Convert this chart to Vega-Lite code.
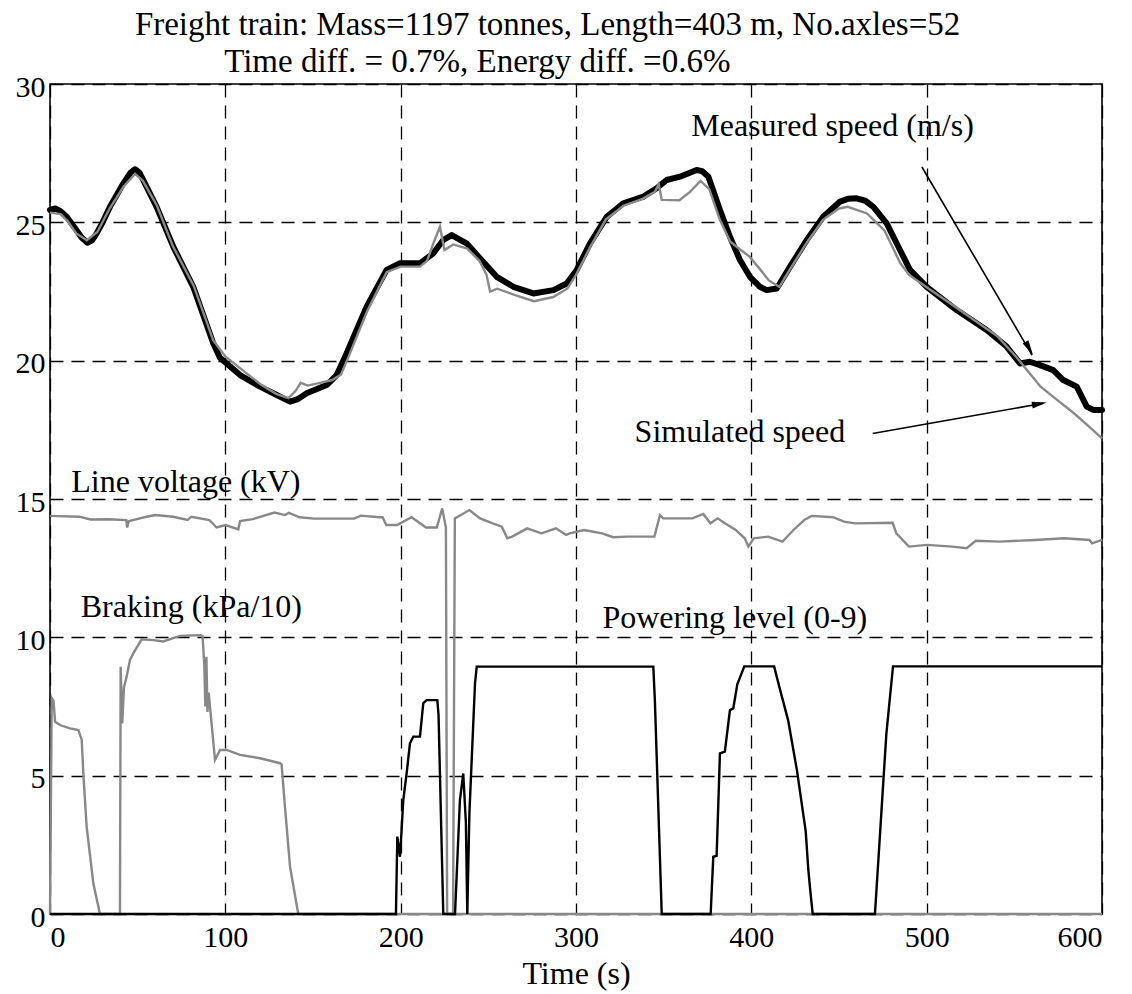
{
  "$schema": "https://vega.github.io/schema/vega-lite/v6.json",
  "width": 1052,
  "height": 830,
  "autosize": {"type": "none"},
  "padding": {"left": 50, "top": 84, "right": 30, "bottom": 80},
  "background": "#ffffff",
  "config": {
    "view": {"stroke": "#000000", "strokeWidth": 1.6},
    "font": "Liberation Serif",
    "axis": {
      "labelFont": "Liberation Serif",
      "labelColor": "#000000",
      "labelFontSize": 30,
      "titleFont": "Liberation Serif",
      "titleFontSize": 32,
      "titleFontWeight": "normal",
      "titleColor": "#000000",
      "ticks": false,
      "tickSize": 0,
      "domain": false,
      "grid": true,
      "gridColor": "#000000",
      "gridOpacity": 1,
      "gridWidth": 1.3,
      "gridDash": [13, 8]
    }
  },
  "datasets": {
    "measured": [
      {"t": 0, "v": 25.45}, {"t": 3, "v": 25.5}, {"t": 6, "v": 25.4}, {"t": 9.5, "v": 25.2},
      {"t": 15, "v": 24.72}, {"t": 18, "v": 24.45}, {"t": 21.3, "v": 24.26}, {"t": 24, "v": 24.35},
      {"t": 26.6, "v": 24.6}, {"t": 30, "v": 25.0}, {"t": 34.2, "v": 25.56}, {"t": 41.8, "v": 26.4},
      {"t": 46, "v": 26.8}, {"t": 48.5, "v": 26.92}, {"t": 51, "v": 26.8}, {"t": 53.2, "v": 26.53},
      {"t": 60.8, "v": 25.56}, {"t": 70.3, "v": 24.12}, {"t": 81.7, "v": 22.67}, {"t": 93.1, "v": 20.63},
      {"t": 97, "v": 20.1}, {"t": 100.8, "v": 19.9}, {"t": 108.4, "v": 19.48}, {"t": 119.8, "v": 19.06},
      {"t": 129.3, "v": 18.76}, {"t": 136.9, "v": 18.52}, {"t": 141, "v": 18.6}, {"t": 146.4, "v": 18.82},
      {"t": 157.8, "v": 19.12}, {"t": 163.5, "v": 19.48}, {"t": 169.2, "v": 20.27}, {"t": 180.6, "v": 21.95},
      {"t": 192, "v": 23.28}, {"t": 199.6, "v": 23.52}, {"t": 211, "v": 23.52}, {"t": 218.6, "v": 23.88},
      {"t": 224.3, "v": 24.36}, {"t": 229.1, "v": 24.54}, {"t": 237.6, "v": 24.24}, {"t": 245.2, "v": 23.7},
      {"t": 254.8, "v": 23.03}, {"t": 264.3, "v": 22.67}, {"t": 275.7, "v": 22.43}, {"t": 287.1, "v": 22.55},
      {"t": 294.7, "v": 22.79}, {"t": 300.4, "v": 23.28}, {"t": 308, "v": 24.24}, {"t": 317.5, "v": 25.2},
      {"t": 327, "v": 25.69}, {"t": 338.4, "v": 25.93}, {"t": 346, "v": 26.23}, {"t": 351.7, "v": 26.53},
      {"t": 359.3, "v": 26.65}, {"t": 368.8, "v": 26.89}, {"t": 372, "v": 26.85}, {"t": 375.5, "v": 26.65},
      {"t": 382.1, "v": 25.45}, {"t": 387.8, "v": 24.48}, {"t": 393.5, "v": 23.64}, {"t": 399.2, "v": 23.03},
      {"t": 404.9, "v": 22.67}, {"t": 408.7, "v": 22.55}, {"t": 414.5, "v": 22.61}, {"t": 422.1, "v": 23.4},
      {"t": 431.6, "v": 24.36}, {"t": 441, "v": 25.2}, {"t": 450.6, "v": 25.75}, {"t": 455, "v": 25.85},
      {"t": 460.1, "v": 25.87}, {"t": 465, "v": 25.78}, {"t": 469.6, "v": 25.56}, {"t": 477.2, "v": 24.96},
      {"t": 484.8, "v": 24.0}, {"t": 490.5, "v": 23.28}, {"t": 500, "v": 22.67}, {"t": 517.1, "v": 21.83},
      {"t": 534.2, "v": 21.11}, {"t": 545.6, "v": 20.51}, {"t": 553.2, "v": 19.9}, {"t": 558.9, "v": 19.96},
      {"t": 564.6, "v": 19.84}, {"t": 572.2, "v": 19.66}, {"t": 577.9, "v": 19.3}, {"t": 585.6, "v": 19.06},
      {"t": 591.3, "v": 18.34}, {"t": 595, "v": 18.22}, {"t": 600, "v": 18.22}
    ],
    "simulated": [
      {"t": 0, "v": 25.35}, {"t": 6, "v": 25.3}, {"t": 10, "v": 25.05}, {"t": 15, "v": 24.6},
      {"t": 21, "v": 24.35}, {"t": 27, "v": 24.65}, {"t": 34, "v": 25.5}, {"t": 42, "v": 26.3},
      {"t": 48.5, "v": 26.75}, {"t": 53, "v": 26.5}, {"t": 61, "v": 25.6}, {"t": 70, "v": 24.15},
      {"t": 82, "v": 22.7}, {"t": 93, "v": 20.75}, {"t": 100, "v": 20.15}, {"t": 108, "v": 19.75},
      {"t": 120, "v": 19.15}, {"t": 129, "v": 18.8}, {"t": 136, "v": 18.65}, {"t": 140, "v": 18.9},
      {"t": 143, "v": 19.2}, {"t": 147, "v": 19.1}, {"t": 154, "v": 19.2}, {"t": 161, "v": 19.3},
      {"t": 166, "v": 19.5}, {"t": 170, "v": 20.1}, {"t": 181, "v": 21.8}, {"t": 192, "v": 23.2},
      {"t": 200, "v": 23.4}, {"t": 211, "v": 23.4}, {"t": 215, "v": 23.6}, {"t": 219, "v": 24.3},
      {"t": 222.4, "v": 24.84}, {"t": 225, "v": 24.0}, {"t": 230, "v": 24.2}, {"t": 238, "v": 24.05},
      {"t": 245, "v": 23.6}, {"t": 249, "v": 23.1}, {"t": 251, "v": 22.5}, {"t": 255, "v": 22.6},
      {"t": 264, "v": 22.4}, {"t": 276, "v": 22.15}, {"t": 287, "v": 22.3}, {"t": 295, "v": 22.6},
      {"t": 300, "v": 23.1}, {"t": 308, "v": 24.1}, {"t": 317, "v": 25.1}, {"t": 327, "v": 25.6},
      {"t": 338, "v": 25.85}, {"t": 345, "v": 26.1}, {"t": 347.2, "v": 26.38}, {"t": 348.9, "v": 25.81},
      {"t": 359, "v": 25.8}, {"t": 365, "v": 26.1}, {"t": 371, "v": 26.5}, {"t": 376, "v": 26.2},
      {"t": 382, "v": 25.1}, {"t": 388, "v": 24.3}, {"t": 394, "v": 24.0}, {"t": 399, "v": 23.76},
      {"t": 405, "v": 23.3}, {"t": 410, "v": 22.9}, {"t": 416, "v": 22.67}, {"t": 422, "v": 23.3},
      {"t": 432, "v": 24.3}, {"t": 441, "v": 25.1}, {"t": 450, "v": 25.5}, {"t": 455, "v": 25.56},
      {"t": 466, "v": 25.32}, {"t": 476, "v": 24.7}, {"t": 485, "v": 23.52}, {"t": 490, "v": 23.1},
      {"t": 500, "v": 22.65}, {"t": 515, "v": 22.0}, {"t": 527, "v": 21.47}, {"t": 540, "v": 20.9},
      {"t": 551, "v": 20.14}, {"t": 558, "v": 19.6}, {"t": 565, "v": 19.06}, {"t": 574, "v": 18.6},
      {"t": 584, "v": 18.1}, {"t": 592, "v": 17.65}, {"t": 600, "v": 17.19}
    ],
    "voltage": [
      {"t": 0, "v": 14.39}, {"t": 16.8, "v": 14.36}, {"t": 23, "v": 14.26}, {"t": 33.3, "v": 14.27},
      {"t": 43.5, "v": 14.24}, {"t": 44, "v": 13.97}, {"t": 44.9, "v": 14.2}, {"t": 53.8, "v": 14.34},
      {"t": 60, "v": 14.42}, {"t": 70.3, "v": 14.36}, {"t": 78.5, "v": 14.24}, {"t": 80.6, "v": 14.36},
      {"t": 90.9, "v": 14.24}, {"t": 95, "v": 13.97}, {"t": 100.2, "v": 14.06}, {"t": 107.4, "v": 13.9},
      {"t": 108.4, "v": 14.2}, {"t": 115.6, "v": 14.27}, {"t": 128, "v": 14.51}, {"t": 134.1, "v": 14.42},
      {"t": 136.2, "v": 14.5}, {"t": 142.4, "v": 14.34}, {"t": 150.6, "v": 14.29}, {"t": 173.3, "v": 14.29},
      {"t": 177.4, "v": 14.4}, {"t": 187.7, "v": 14.34}, {"t": 189.7, "v": 14.34}, {"t": 191.8, "v": 14.06},
      {"t": 198, "v": 14.06}, {"t": 206.2, "v": 14.34}, {"t": 214.4, "v": 13.97}, {"t": 220.6, "v": 13.97},
      {"t": 223.7, "v": 14.66}, {"t": 225.8, "v": 13.97}, {"t": 226.5, "v": 0}, {"t": 229.9, "v": 0},
      {"t": 230.9, "v": 14.3}, {"t": 239.2, "v": 14.6}, {"t": 245.3, "v": 14.3}, {"t": 252.5, "v": 14.12},
      {"t": 257.7, "v": 14.0}, {"t": 260.8, "v": 13.58}, {"t": 263.6, "v": 13.64}, {"t": 272.1, "v": 13.94},
      {"t": 280.3, "v": 13.76}, {"t": 288.6, "v": 13.94}, {"t": 294.3, "v": 13.7}, {"t": 296.4, "v": 13.76},
      {"t": 304.6, "v": 13.88}, {"t": 314.9, "v": 13.76}, {"t": 321.1, "v": 13.62}, {"t": 329.3, "v": 13.64},
      {"t": 344.7, "v": 13.64}, {"t": 347.9, "v": 14.42}, {"t": 349.7, "v": 14.3}, {"t": 366.4, "v": 14.3},
      {"t": 372.6, "v": 14.46}, {"t": 376.7, "v": 14.12}, {"t": 380.8, "v": 14.3}, {"t": 384.9, "v": 14.12},
      {"t": 391.1, "v": 13.88}, {"t": 396.2, "v": 13.58}, {"t": 398.3, "v": 13.28}, {"t": 401.4, "v": 13.58},
      {"t": 409.6, "v": 13.64}, {"t": 417.8, "v": 13.46}, {"t": 424, "v": 13.88}, {"t": 430.2, "v": 14.24},
      {"t": 434.3, "v": 14.39}, {"t": 446.6, "v": 14.34}, {"t": 452.9, "v": 14.18}, {"t": 459, "v": 14.12},
      {"t": 480.6, "v": 14.14}, {"t": 482.7, "v": 13.76}, {"t": 489.9, "v": 13.28}, {"t": 500.2, "v": 13.34},
      {"t": 514.6, "v": 13.28}, {"t": 522.8, "v": 13.22}, {"t": 528, "v": 13.49}, {"t": 541.4, "v": 13.46},
      {"t": 562, "v": 13.52}, {"t": 578.4, "v": 13.58}, {"t": 592.9, "v": 13.52}, {"t": 594.3, "v": 13.4},
      {"t": 600, "v": 13.52}
    ],
    "braking": [
      {"t": 0, "v": 0}, {"t": 1, "v": 7.8}, {"t": 2, "v": 7.7}, {"t": 2.9, "v": 6.95},
      {"t": 5.7, "v": 6.83}, {"t": 11.4, "v": 6.71}, {"t": 16.2, "v": 6.65}, {"t": 18.1, "v": 6.29},
      {"t": 19, "v": 5.08}, {"t": 20.9, "v": 3.16}, {"t": 24.7, "v": 1.11}, {"t": 28.5, "v": 0},
      {"t": 39.9, "v": 0}, {"t": 40.3, "v": 8.94}, {"t": 41.2, "v": 6.89}, {"t": 42.2, "v": 8.2},
      {"t": 43.7, "v": 8.58}, {"t": 45.6, "v": 9.18}, {"t": 47.5, "v": 9.42}, {"t": 52.3, "v": 9.93},
      {"t": 58.9, "v": 9.9}, {"t": 64.6, "v": 9.85}, {"t": 74.1, "v": 10.05}, {"t": 85.5, "v": 10.08},
      {"t": 87, "v": 10.05}, {"t": 88, "v": 9.0}, {"t": 88.6, "v": 7.5}, {"t": 89.2, "v": 9.3},
      {"t": 89.8, "v": 7.3}, {"t": 90.5, "v": 8.0}, {"t": 94.1, "v": 5.57}, {"t": 97, "v": 5.93},
      {"t": 100.8, "v": 5.93}, {"t": 108.4, "v": 5.75}, {"t": 119.8, "v": 5.63}, {"t": 131.2, "v": 5.45},
      {"t": 132.1, "v": 5.4}, {"t": 134, "v": 3.88}, {"t": 136.9, "v": 1.71}, {"t": 141.6, "v": 0},
      {"t": 600, "v": 0}
    ],
    "powering": [
      {"t": 0, "v": 0}, {"t": 197.3, "v": 0}, {"t": 198.1, "v": 2.8}, {"t": 199.6, "v": 2.07},
      {"t": 200.5, "v": 3.0}, {"t": 201.5, "v": 4.12}, {"t": 203.4, "v": 5.08}, {"t": 205.3, "v": 6.17},
      {"t": 207.2, "v": 6.41}, {"t": 211, "v": 6.41}, {"t": 212.9, "v": 7.62}, {"t": 214.8, "v": 7.73},
      {"t": 220.9, "v": 7.73}, {"t": 221.6, "v": 7.2}, {"t": 224.3, "v": 0}, {"t": 231, "v": 0},
      {"t": 233.8, "v": 4.12}, {"t": 235.7, "v": 5.08}, {"t": 237.2, "v": 3.3}, {"t": 238, "v": 0},
      {"t": 239.2, "v": 3.64}, {"t": 242.4, "v": 8.34}, {"t": 243.4, "v": 8.94}, {"t": 344.1, "v": 8.94},
      {"t": 345, "v": 7.7}, {"t": 348.9, "v": 0}, {"t": 376.8, "v": 0}, {"t": 378.3, "v": 2.07},
      {"t": 380.2, "v": 2.1}, {"t": 382.1, "v": 5.81}, {"t": 384.9, "v": 5.87}, {"t": 387.8, "v": 7.37},
      {"t": 389.7, "v": 7.43}, {"t": 392, "v": 8.3}, {"t": 396, "v": 8.95}, {"t": 413, "v": 8.95},
      {"t": 416, "v": 8.2}, {"t": 421, "v": 7.0}, {"t": 426, "v": 5.2}, {"t": 431, "v": 3.0},
      {"t": 432.5, "v": 1.6}, {"t": 434, "v": 0.6}, {"t": 435, "v": 0}, {"t": 470.5, "v": 0},
      {"t": 474, "v": 3.5}, {"t": 477, "v": 6.5}, {"t": 480.8, "v": 8.95}, {"t": 600, "v": 8.95}
    ],
    "arrows": [
      {"t": 497.3, "v": 27.0, "t2": 560.1, "v2": 20.2},
      {"t": 469.2, "v": 17.37, "t2": 566.5, "v2": 18.46}
    ]
  },
  "encoding": {
    "x": {
      "field": "t", "type": "quantitative",
      "scale": {"domain": [0, 600], "nice": false, "zero": false},
      "axis": {"title": "Time (s)", "values": [0, 100, 200, 300, 400, 500, 600], "labelPadding": 8, "titlePadding": 6}
    },
    "y": {
      "field": "v", "type": "quantitative",
      "scale": {"domain": [0, 30], "nice": false, "zero": false},
      "axis": {"title": null, "values": [0, 5, 10, 15, 20, 25, 30], "labelPadding": 5, "labelOffset": 3}
    }
  },
  "layer": [
    {"data": {"name": "voltage"}, "mark": {"type": "line", "color": "#888888", "strokeWidth": 2.4}},
    {"data": {"name": "braking"}, "mark": {"type": "line", "color": "#888888", "strokeWidth": 2.4}},
    {"data": {"name": "powering"}, "mark": {"type": "line", "color": "#000000", "strokeWidth": 2.4}},
    {"data": {"name": "measured"}, "mark": {"type": "line", "color": "#000000", "strokeWidth": 6, "strokeJoin": "round", "strokeCap": "round"}},
    {"data": {"name": "simulated"}, "mark": {"type": "line", "color": "#8a8a8a", "strokeWidth": 2.4}},
    {
      "data": {"name": "arrows"},
      "mark": {"type": "rule", "color": "#000000", "strokeWidth": 1.6},
      "encoding": {"x2": {"field": "t2"}, "y2": {"field": "v2"}}
    },
    {
      "data": {"values": [{"t": 558.5, "v": 20.45}]},
      "mark": {"type": "point", "shape": "M0,-1L0.45,1L-0.45,1Z", "filled": true, "color": "#000000", "opacity": 1, "size": 220, "angle": 150}
    },
    {
      "data": {"values": [{"t": 564.3, "v": 18.44}]},
      "mark": {"type": "point", "shape": "M0,-1L0.45,1L-0.45,1Z", "filled": true, "color": "#000000", "opacity": 1, "size": 220, "angle": 80}
    },
    {
      "data": {"values": [
        {"t": 446.3, "v": 28.13, "label": "Measured speed (m/s)"},
        {"t": 393.5, "v": 17.07, "label": "Simulated speed"},
        {"t": 77.5, "v": 15.27, "label": "Line voltage (kV)"},
        {"t": 80.6, "v": 10.75, "label": "Braking (kPa/10)"},
        {"t": 390.6, "v": 10.33, "label": "Powering level (0-9)"}
      ]},
      "mark": {"type": "text", "font": "Liberation Serif", "fontSize": 32, "align": "center", "baseline": "alphabetic", "color": "#000000"},
      "encoding": {"text": {"field": "label"}}
    },
    {
      "data": {"values": [
        {"t": 283.8, "v": 31.77, "label": "Freight train: Mass=1197 tonnes, Length=403 m, No.axles=52"},
        {"t": 243.7, "v": 30.44, "label": "Time diff. = 0.7%, Energy diff. =0.6%"}
      ]},
      "mark": {"type": "text", "font": "Liberation Serif", "fontSize": 33, "align": "center", "baseline": "alphabetic", "color": "#000000"},
      "encoding": {"text": {"field": "label"}}
    }
  ]
}
